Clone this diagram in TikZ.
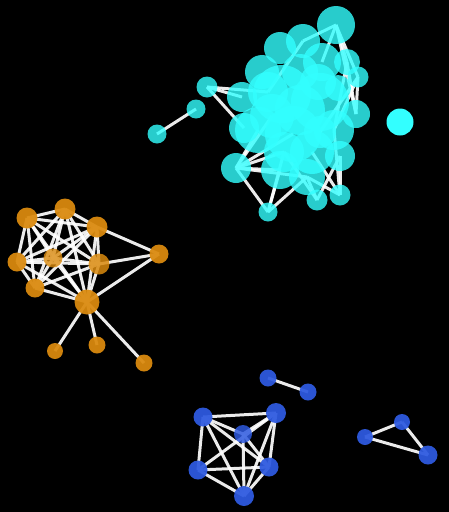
\documentclass[tikz,border=0pt]{standalone}
\pgfdeclarelayer{bg}
\pgfdeclarelayer{edges}
\pgfsetlayers{bg,edges,main}
\definecolor{cyc}{HTML}{33FFFF}
\definecolor{orc}{HTML}{DA8A0E}
\definecolor{blc}{HTML}{2E5AE0}
\tikzset{
  nd/.style={circle, inner sep=0pt, draw=none},
  cy/.style={nd, fill=cyc, fill opacity=0.8},
  orn/.style={nd, fill=orc, fill opacity=0.94},
  bln/.style={nd, fill=blc, fill opacity=0.94},
  edge/.style={draw=white, line width=3pt, opacity=0.92}
}
\begin{document}
\begin{tikzpicture}[x=1pt,y=-1pt]
\begin{pgfonlayer}{bg}
\fill[black] (0,0) rectangle (449,512);
\end{pgfonlayer}
\useasboundingbox (0,0) rectangle (449,512);
% cyan
\node[cy, minimum size=38pt] (c1) at (336,25) {};
\node[cy, minimum size=34pt] (c2) at (303,41) {};
\node[cy, minimum size=32pt] (c3) at (280,48) {};
\node[cy, minimum size=38pt] (c4) at (322,62) {};
\node[cy, minimum size=26pt] (c5) at (347,62) {};
\node[cy, minimum size=21pt] (c6) at (358,77) {};
\node[cy, minimum size=34pt] (c7) at (262,72) {};
\node[cy, minimum size=30pt] (c8) at (242,97) {};
\node[cy, minimum size=58pt] (c9) at (282,94) {};
\node[cy, minimum size=58pt] (c10) at (320,102) {};
\node[cy, minimum size=46pt] (c11) at (258,130) {};
\node[cy, minimum size=56pt] (c12) at (293,134) {};
\node[cy, minimum size=40pt] (c13) at (334,130) {};
\node[cy, minimum size=28pt] (c14) at (356,114) {};
\node[cy, minimum size=30pt] (c15) at (236,168) {};
\node[cy, minimum size=38pt] (c16) at (280,170) {};
\node[cy, minimum size=36pt] (c17) at (307,177) {};
\node[cy, minimum size=30pt] (c18) at (340,156) {};
\node[cy, minimum size=36pt] (c26) at (300,72) {};
\node[cy, minimum size=30pt] (c27) at (244,128) {};
\node[cy, minimum size=32pt] (c28) at (320,132) {};
\node[cy, minimum size=26pt] (c29) at (338,88) {};
\node[cy, minimum size=50pt] (c30) at (300,110) {};
\node[cy, minimum size=44pt] (c31) at (272,116) {};
\node[cy, minimum size=44pt] (c32) at (312,152) {};
\node[cy, minimum size=40pt] (c33) at (284,152) {};
\node[cy, minimum size=40pt] (c34) at (268,92) {};
\node[cy, minimum size=36pt] (c35) at (318,82) {};
\node[cy, minimum size=19pt] (c19) at (268,212) {};
\node[cy, minimum size=21pt] (c20) at (317,200) {};
\node[cy, minimum size=21pt] (c21) at (340,195) {};
\node[cy, minimum size=21pt] (c22) at (207,87) {};
\node[cy, minimum size=19pt] (c23) at (196,109) {};
\node[cy, minimum size=19pt] (c24) at (157,134) {};
\node[cy, minimum size=27pt, fill opacity=1] (c25) at (400,122) {};
% orange
\node[orn, minimum size=21pt] (o1) at (27,218) {};
\node[orn, minimum size=21pt] (o2) at (65,209) {};
\node[orn, minimum size=21pt] (o3) at (97,227) {};
\node[orn, minimum size=19pt] (o4) at (17,262) {};
\node[orn, minimum size=19pt, fill opacity=0.8] (o5) at (53,258) {};
\node[orn, minimum size=21pt, fill opacity=0.85] (o6) at (99,264) {};
\node[orn, minimum size=19pt] (o7) at (159,254) {};
\node[orn, minimum size=19pt] (o8) at (35,288) {};
\node[orn, minimum size=25pt] (o9) at (87,302) {};
\node[orn, minimum size=16pt] (o10) at (55,351) {};
\node[orn, minimum size=17pt] (o11) at (97,345) {};
\node[orn, minimum size=17pt] (o12) at (144,363) {};
% blue
\node[bln, minimum size=17pt] (b1) at (268,378) {};
\node[bln, minimum size=17pt] (b2) at (308,392) {};
\node[bln, minimum size=19pt] (b3) at (203,417) {};
\node[bln, minimum size=20pt] (b4) at (276,413) {};
\node[bln, minimum size=18pt, fill opacity=0.85] (b5) at (243,434) {};
\node[bln, minimum size=19pt] (b6) at (198,470) {};
\node[bln, minimum size=19pt] (b7) at (269,467) {};
\node[bln, minimum size=20pt] (b8) at (244,496) {};
\node[bln, minimum size=16pt] (t1) at (365,437) {};
\node[bln, minimum size=16pt] (t2) at (402,422) {};
\node[bln, minimum size=19pt] (t3) at (428,455) {};
\begin{pgfonlayer}{edges}
\foreach \a/\b in {o1/o2,o1/o3,o1/o4,o1/o5,o1/o6,o1/o8,o1/o9,o2/o3,o2/o4,o2/o5,o2/o6,o2/o8,o2/o9,o3/o4,o3/o5,o3/o6,o3/o8,o3/o9,o4/o5,o4/o6,o4/o8,o4/o9,o5/o6,o5/o8,o5/o9,o6/o8,o6/o9,o8/o9,o7/o3,o7/o6,o7/o9,o9/o10,o9/o11,o9/o12,
  b1/b2,b3/b4,b3/b5,b3/b6,b3/b7,b3/b8,b4/b5,b4/b6,b4/b7,b4/b8,b5/b7,b5/b8,b6/b7,b6/b8,b7/b8,t1/t2,t2/t3,t1/t3,
  c23/c24,c22/c8,c22/c34,c22/c27,c19/c16,c19/c15,c19/c17,c19/c33,c20/c17,c20/c18,c20/c33,c21/c18,c21/c13,c21/c32,c21/c17,
  c1/c2,c1/c4,c1/c5,c1/c6,c1/c14,c6/c13,c5/c14,c6/c28,c5/c13,c6/c14,c2/c34,
  c15/c12,c15/c16,c15/c11,c15/c17,c15/c31,c15/c33}
  \draw[edge] (\a.center) -- (\b.center);
\end{pgfonlayer}
\end{tikzpicture}
\end{document}
